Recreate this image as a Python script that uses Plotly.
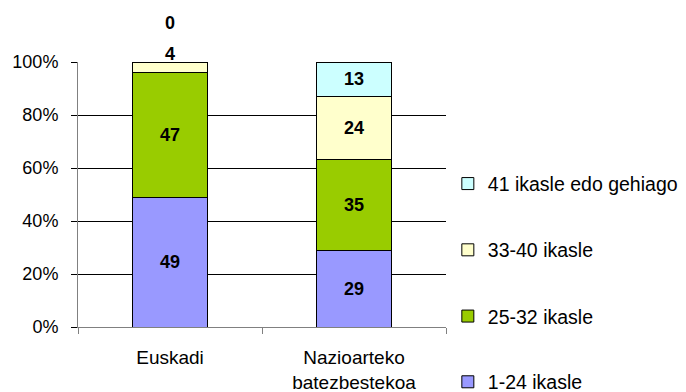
import plotly.graph_objects as go

# Class size distribution (share of pupils by class size band)
categories = ["Euskadi", "Nazioarteko<br>batezbestekoa"]
series_names = ["1-24 ikasle", "25-32 ikasle", "33-40 ikasle", "41 ikasle edo gehiago"]
values_euskadi = [49, 47, 4, 0]
values_nazio = [29, 35, 24, 13]
colors = ["#9999FF", "#99CC00", "#FFFFCC", "#CCFFFF"]
y_ticks = [0, 20, 40, 60, 80, 100]
y_tick_labels = ["0%", "20%", "40%", "60%", "80%", "100%"]

FONT = "Liberation Sans, Arial, sans-serif"
SMALL = 10  # segments below this are labelled above the bar instead of inside

# one legend box per band, widely spaced, largest band at the top
legend_ids = ["legend", "legend2", "legend3", "legend4"]
legend_y = [-0.208, 0.04, 0.29, 0.54]

fig = go.Figure()
for i, name in enumerate(series_names):
    vals = [values_euskadi[i], values_nazio[i]]
    texts = [str(v) if v >= SMALL else "" for v in vals]
    fig.add_trace(go.Bar(
        x=categories, y=vals, name=name,
        marker=dict(color=colors[i], line=dict(color="black", width=1)),
        text=texts, textposition="inside", insidetextanchor="middle",
        textfont=dict(family=FONT, size=18, color="black", weight="bold"),
        textangle=0, legend=legend_ids[i], hoverinfo="skip",
    ))

# small Euskadi segments labelled above the bar, stacked upward
annotations = []
shift = -4
for i, v in enumerate(values_euskadi):
    if v < SMALL:
        annotations.append(dict(
            x=categories[0], y=100, xref="x", yref="y", text=f"<b>{v}</b>",
            showarrow=False, yanchor="bottom", yshift=shift,
            font=dict(family=FONT, size=18, color="black"),
        ))
        shift += 31

legend_common = dict(
    x=1.005, xanchor="left", yanchor="middle",
    font=dict(family=FONT, size=19.5, color="black"),
    bgcolor="rgba(0,0,0,0)",
)
layout_legends = {lid: dict(legend_common, y=legend_y[i]) for i, lid in enumerate(legend_ids)}

fig.update_layout(
    width=686, height=392,
    margin=dict(l=78, r=240, t=62, b=65, autoexpand=False),
    barmode="stack", barnorm="percent", bargap=0.59,
    paper_bgcolor="white", plot_bgcolor="white",
    font=dict(family=FONT, size=18, color="black"),
    showlegend=True,
    annotations=annotations,
    **layout_legends,
)
fig.update_yaxes(
    range=[0, 100], tickvals=y_ticks, ticktext=y_tick_labels,
    showgrid=True, gridcolor="black", gridwidth=1,
    showline=True, linecolor="#808080", linewidth=1,
    ticks="outside", ticklen=6, tickcolor="black", ticklabelstandoff=9,
    tickfont=dict(family=FONT, size=18), zeroline=False, automargin=False,
)
fig.update_xaxes(
    showline=True, linecolor="#808080", linewidth=1,
    ticks="outside", tickson="boundaries", ticklen=6, tickcolor="#808080",
    ticklabelstandoff=13, automargin=False,
    tickfont=dict(family=FONT, size=19),
)

fig.write_html("out.html")
